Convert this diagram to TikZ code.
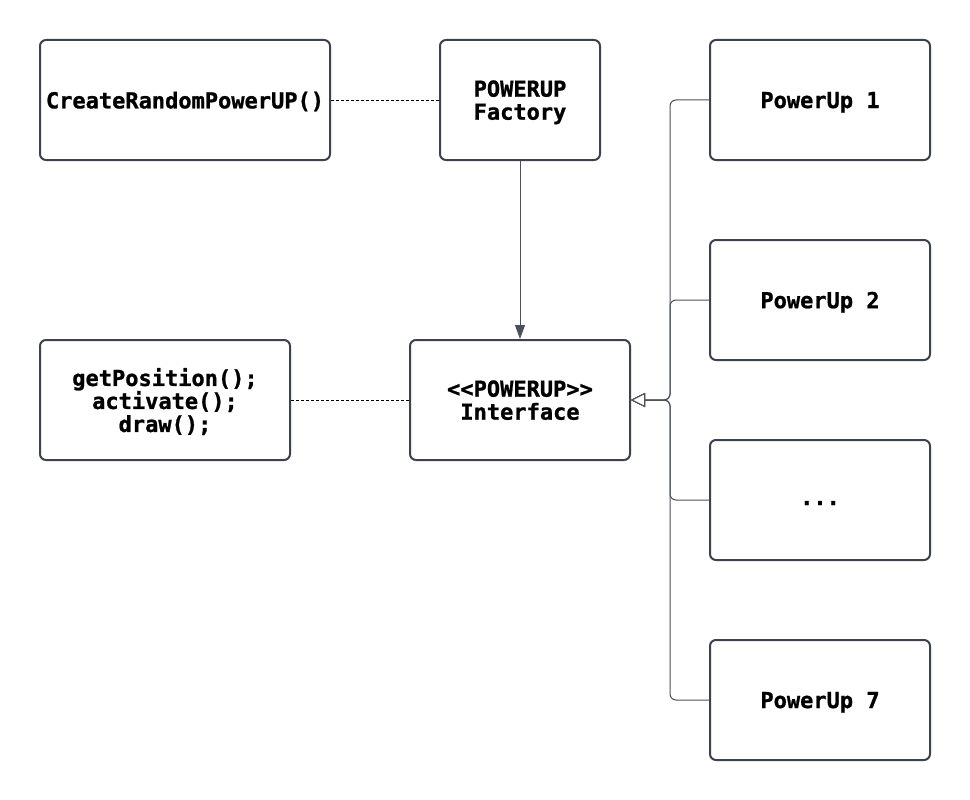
\documentclass[tikz,border=0pt]{standalone}
\usepackage{fontspec}
\newfontfamily\monobold{DejaVu Sans Mono}[BoldFeatures={FakeBold=1}]
\usetikzlibrary{arrows.meta}
\definecolor{edge}{HTML}{3D424E}
\definecolor{conn}{HTML}{4A505C}
\tikzset{
  box/.style={draw=edge, line width=2pt, rounded corners=6pt, fill=white,
    inner sep=0pt, align=center, minimum height=120pt, text depth=0pt,
    font=\fontsize{22}{23}\selectfont\monobold\bfseries},
  dotline/.style={draw=black, line width=0.9pt, dash pattern=on 3pt off 2pt},
  assoc/.style={draw=conn, line width=1pt, -{Triangle[length=14pt,width=10pt]}},
  inh/.style={draw=conn, line width=1pt, rounded corners=6pt,
    {Triangle[open,length=14pt,width=14pt,fill=white]}-},
}
\begin{document}
\begin{tikzpicture}[x=1pt,y=-1pt]
\useasboundingbox[fill=white] (0,0) rectangle (970,800);
\node[box, minimum width=290pt] (create) at (185,100) {CreateRandomPowerUP()};
\node[box, minimum width=160pt] (factory) at (520,100) {POWERUP\\Factory};
\node[box, minimum width=220pt] (p1) at (820,100) {PowerUp 1};
\node[box, minimum width=220pt] (p2) at (820,300) {PowerUp 2};
\node[box, minimum width=220pt, text height=10pt] (pd) at (820,500) {...};
\node[box, minimum width=220pt] (p7) at (820,700) {PowerUp 7};
\node[box, minimum width=250pt] (methods) at (165,400) {getPosition();\\activate();\\draw();};
\node[box, minimum width=220pt] (iface) at (520,400) {<{}<POWERUP>{}>\\Interface};
\coordinate (bus) at (670,400);
\draw[dotline] (create.east) -- (factory.west);
\draw[dotline] (methods.east) -- (iface.west);
\draw[assoc] (factory.south) -- (iface.north);
\draw[inh] (iface.east) -- (bus) -- (bus |- p1.west) -- (p1.west);
\draw[inh] (iface.east) -- (bus) -- (bus |- p2.west) -- (p2.west);
\draw[inh] (iface.east) -- (bus) -- (bus |- pd.west) -- (pd.west);
\draw[inh] (iface.east) -- (bus) -- (bus |- p7.west) -- (p7.west);
\end{tikzpicture}
\end{document}
